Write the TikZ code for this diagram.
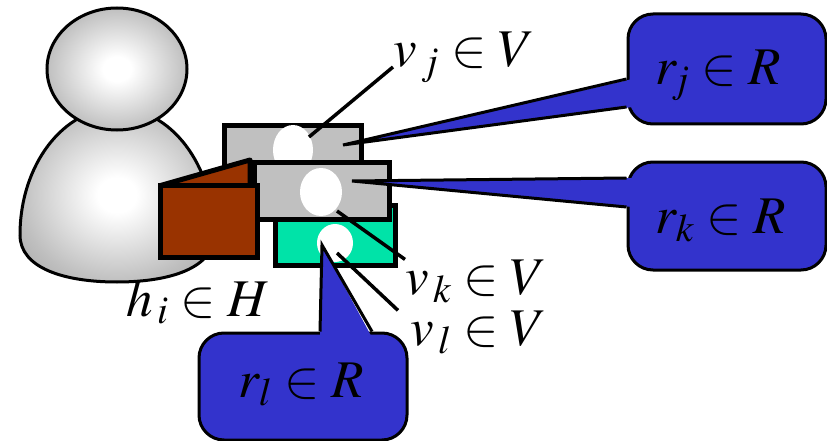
\documentclass[tikz,border=0pt]{standalone}
\usepackage{mathptmx}
\usetikzlibrary{calc}
\definecolor{cardgray}{HTML}{C0C0C0}
\definecolor{cardgreen}{HTML}{00E3A8}
\definecolor{wallet}{HTML}{993300}
\definecolor{bubble}{HTML}{3333CC}
\pgfdeclareradialshading{person}{\pgfpoint{0bp}{0bp}}{%
  color(0bp)=(white); color(5bp)=(white); color(25bp)=(black!25);
  color(40bp)=(black!40); color(50bp)=(black!52)}

\begin{document}
\begin{tikzpicture}[x=1pt,y=-1pt,
  card/.style={draw,line width=5pt,fill=cardgray},
  hole/.style={fill=white},
  leader/.style={line width=3.5pt},
  figure/.style={draw,line width=3pt,shading=person},
  callout/.style={draw,line width=3pt,fill=bubble,rounded corners=25pt},
  lbl/.style={inner sep=0pt,anchor=base west,font=\fontsize{53}{60}\selectfont}]
  \useasboundingbox (0,0) rectangle (827,441);

  % user
  \shade[figure]
    (20,235) arc[start angle=180,end angle=360,x radius=97,y radius=127]
    .. controls (214,268) and (170,282) .. (117,282)
    .. controls (64,282) and (20,268) .. (20,235) -- cycle;
  \shade[figure] (117,69) ellipse[x radius=70,y radius=61];

  % items
  \draw[card] (224.5,125.5) rectangle (361.5,190);
  \fill[hole] (293,150) ellipse[x radius=20,y radius=25];
  \coordinate (vjdot) at (309,137);
  \coordinate (rjdot) at (343,145);
  \draw[card,fill=cardgreen] (275.5,205) rectangle (395.5,265.5);
  \fill[hole] (335,243) ellipse[x radius=18,y radius=19];
  \coordinate (vldot) at (337,253);
  \coordinate (rldot) at (322,245);
  \draw[card] (254.5,162.5) rectangle (389.5,219.5);
  \fill[hole] (321,192) ellipse[x radius=21,y radius=24];
  \coordinate (vkdot) at (337,211);
  \coordinate (rkdot) at (352,181);

  % wallet
  \draw[line width=5pt,fill=wallet,line join=round] (160.5,185.5) -- (250,160) -- (250,185.5) -- cycle;
  \draw[line width=5pt,fill=wallet] (160.5,185.5) rectangle (257.5,257.5);

  % ratings
  \node[callout,minimum width=198,minimum height=110] (rj) at (727,69) {};
  \fill[bubble] ($(rj.west)+(6,10)$) -- (rjdot) -- ($(rj.west)+(6,38)$) -- cycle;
  \draw[line width=3pt] ($(rj.west)+(0,10)$) -- (rjdot) -- ($(rj.west)+(0,38)$);
  \node[callout,minimum width=198,minimum height=108] (rk) at (727,216) {};
  \fill[bubble] ($(rk.west)+(6,-38)$) -- (rkdot) -- ($(rk.west)+(6,-9)$) -- cycle;
  \draw[line width=3pt] ($(rk.west)+(0,-38)$) -- (rkdot) -- ($(rk.west)+(0,-9)$);
  \node[callout,minimum width=208,minimum height=107] (rl) at (303,386.5) {};
  \fill[bubble] ($(rl.north)+(17,6)$) -- (rldot) -- ($(rl.north)+(69,6)$) -- cycle;
  \draw[line width=3pt] ($(rl.north)+(17,0)$) -- (rldot) -- ($(rl.north)+(69,0)$);

  % labels
  \node[lbl] (vj) at (393,67) {$v_{\,j} \in V$};
  \node[lbl] (vk) at (405,294) {$v_{\,k} \in V$};
  \node[lbl] (vl) at (410,345) {$v_{\,l} \in V$};
  \node[lbl] (hi) at (126,316) {$h_{\,i} \in H$};
  \node[lbl] at (655,85) {$r_{\!j} \in R$};
  \node[lbl] at (655,233) {$r_k \in R$};
  \node[lbl] at (238,397) {$r_l \in R$};

  \draw[leader] (vjdot) -- (vj.base west);
  \draw[leader] (vkdot) -- (vk.north west);
  \draw[leader] (vldot) -- ($(vl.north west)+(-12,0)$);
\end{tikzpicture}
\end{document}
